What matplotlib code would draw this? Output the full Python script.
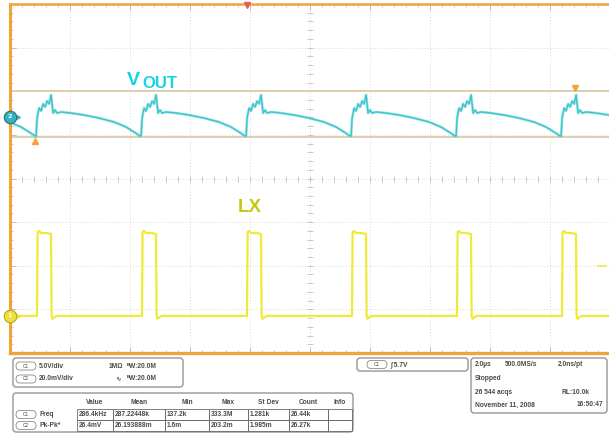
import matplotlib

matplotlib.use("Agg")

import matplotlib.pyplot as plt
import numpy as np
from matplotlib.patches import FancyBboxPatch, Rectangle

# scope settings
US_PER_DIV = 2.0
CH1_V_PER_DIV = 5.0
CH2_MV_PER_DIV = 20.0
CH1_OFFSET_DIV = -3.15
CH2_OFFSET_DIV = 1.41

# switching edges (us from left of screen)
lx_edges_us = [0.9, 4.4, 7.9, 11.4, 14.9, 18.4]
vout_edges_us = [-2.63, 0.87, 4.37, 7.87, 11.37, 14.87, 18.37]

# one LX cycle: time after the edge (us) and volts
lx_cycle_t = [0.0, 0.02, 0.067, 0.133, 0.3, 0.467, 0.487, 0.517, 0.6, 0.667]
lx_cycle_v = [0.0, 9.6, 9.75, 9.5, 9.5, 9.4, 0.0, -0.34, -0.1, 0.0]

# one VOUT ripple cycle (AC coupled): time after the edge (us) and mV
vout_cycle_t = [0.0, 0.033, 0.1, 0.167, 0.233, 0.3, 0.367, 0.433, 0.5, 0.567,
                0.633, 0.7, 0.833, 1.167, 1.6, 2.1, 2.6, 3.0, 3.267, 3.467]
vout_cycle_mv = [-8.7, -0.5, 4.1, 2.8, 6.0, 4.6, 7.3, 6.0, 10.1, 1.8,
                 3.2, 1.8, 2.3, 1.8, 0.9, -0.5, -2.3, -4.6, -6.9, -8.7]

cursor_mv = [11.9, -9.2]
trigger_time_us = 7.9
trigger_level_v = 5.7

meas_header = ["Value", "Mean", "Min", "Max", "St Dev", "Count", "Info"]
meas_freq = ["286.4kHz", "287.22448k", "137.2k", "333.3M", "1.281k", "26.44k", ""]
meas_pkpk = ["26.4mV", "26.193888m", "1.6m", "203.2m", "1.985m", "26.27k", ""]

VOUT_COLOR = "#3cc6cc"
LX_COLOR = "#eeea3a"
FRAME_COLOR = "#f0a43c"
CURSOR_COLOR = "#dccfae"
TEXT_COLOR = "#4a4a4a"
FONT = ["Liberation Sans", "DejaVu Sans"]


def build_trace(edges, cyc_t, cyc_v, start_v=None):
    t, v = [], []
    if start_v is not None:
        t.append(0.0)
        v.append(start_v)
    for e in edges:
        t.extend(e + np.asarray(cyc_t))
        v.extend(cyc_v)
    t.append(20.5)
    v.append(cyc_v[-1])
    return np.array(t), np.array(v)


W, H = 609, 442
fig = plt.figure(figsize=(W / 100, H / 100), dpi=100)
fig.patch.set_facecolor("white")

# scope graticule: 10 x 8 divisions
ax = fig.add_axes([10 / W, 1 - 353 / H, 600 / W, 349 / H])
ax.set_xlim(0, 10 * US_PER_DIV)
ax.set_ylim(-4, 4)
ax.set_xticks(np.arange(0, 20.1, 2.0))
ax.set_yticks(np.arange(-4, 4.1, 1.0))
ax.set_xticks(np.arange(0, 20.1, 0.4), minor=True)
ax.set_yticks(np.arange(-4, 4.1, 0.2), minor=True)
ax.tick_params(which="both", direction="in", top=True, bottom=True, left=True, right=False,
               labelbottom=False, labelleft=False, color="#b4b4b4")
ax.tick_params(which="major", length=4, width=0.6)
ax.tick_params(which="minor", length=2.5, width=0.5)
ax.grid(which="major", ls=(0, (1, 2)), color="#d8d8d8", lw=0.7)
for side in ("left", "top", "bottom"):
    ax.spines[side].set_color(FRAME_COLOR)
ax.spines["left"].set_linewidth(2.2)
ax.spines["top"].set_linewidth(1.8)
ax.spines["bottom"].set_linewidth(2.4)
ax.spines["right"].set_visible(False)

# centre cross with fine ticks
ax.plot(np.arange(0, 20.1, 0.4), np.zeros(51), ls="none", marker="|", ms=4, mew=0.5, color="#b4b4b4")
ax.plot(np.full(41, 10.0), np.arange(-4, 4.1, 0.2), ls="none", marker="_", ms=4, mew=0.5, color="#b4b4b4")

# cursors
for c in cursor_mv:
    ax.axhline(CH2_OFFSET_DIV + c / CH2_MV_PER_DIV, color=CURSOR_COLOR, lw=1.4, zorder=2)

# traces
vt, vv = build_trace(vout_edges_us, vout_cycle_t, vout_cycle_mv)
ax.plot(vt, CH2_OFFSET_DIV + vv / CH2_MV_PER_DIV, color=VOUT_COLOR, lw=2.0, alpha=0.45, zorder=3)
ax.plot(vt, CH2_OFFSET_DIV + vv / CH2_MV_PER_DIV, color=VOUT_COLOR, lw=1.0, zorder=4)
lt, lv = build_trace(lx_edges_us, lx_cycle_t, lx_cycle_v, start_v=0.0)
ax.plot(lt, CH1_OFFSET_DIV + lv / CH1_V_PER_DIV, color=LX_COLOR, lw=1.6, zorder=4)

# cursor readout markers
ax.plot(0.83, CH2_OFFSET_DIV + cursor_mv[1] / CH2_MV_PER_DIV - 0.1, marker="^", ms=4, color=FRAME_COLOR, clip_on=False, zorder=5)
ax.plot(18.83, CH2_OFFSET_DIV + cursor_mv[0] / CH2_MV_PER_DIV + 0.06, marker="v", ms=4.5, color=FRAME_COLOR, clip_on=False, zorder=5)

# trigger position and level
ax.plot(trigger_time_us, 3.97, marker="v", ms=5, color="#e0605a", clip_on=False, zorder=6)
ax.plot([19.6, 19.85], [CH1_OFFSET_DIV + trigger_level_v / CH1_V_PER_DIV] * 2, color=LX_COLOR, lw=1.2, clip_on=False)

# channel ground markers
for off, col, lab in ((CH2_OFFSET_DIV, "#2fb4c0", "2"), (CH1_OFFSET_DIV, "#eee23a", "1")):
    ax.plot(0.22, off, marker=">", ms=4, color=col, clip_on=False, zorder=6)
    ax.plot(0, off, marker="o", ms=9, mfc=col, mec="#3c6a70" if lab == "2" else "#b8a820", mew=0.8, clip_on=False, zorder=7)
    ax.text(0, off, lab, ha="center", va="center", fontsize=4.5, color="white", fontweight="bold", zorder=8, clip_on=False)

# overlay in pixel coordinates for labels and readout panel
ov = fig.add_axes([0, 0, 1, 1], zorder=5)
ov.set_xlim(0, W)
ov.set_ylim(H, 0)
ov.axis("off")
ov.patch.set_alpha(0)

ov.add_patch(Rectangle((123, 66), 63, 23, facecolor="white", edgecolor="none"))
ov.text(127, 85, "V", fontsize=14, fontweight="bold", color="#14d4e4", family=FONT, va="baseline")
ov.text(142, 88, "OUT", fontsize=12, fontweight="bold", color="#14d4e4", family=FONT, va="baseline")
ov.add_patch(Rectangle((230, 192), 40, 24, facecolor="white", edgecolor="none"))
ov.text(238, 212, "LX", fontsize=13.5, fontweight="bold", color="#c6c614", family=FONT, va="baseline")


def box(x0, y0, x1, y1):
    ov.add_patch(FancyBboxPatch((x0, y0), x1 - x0, y1 - y0, boxstyle="round,pad=0,rounding_size=3",
                                facecolor="white", edgecolor="#8a8a8a", lw=0.9))


def pill(x, y, lab):
    ov.add_patch(FancyBboxPatch((x, y - 4), 20, 8, boxstyle="round,pad=0,rounding_size=4",
                                facecolor="white", edgecolor="#8a8a8a", lw=0.6))
    ov.text(x + 10, y, lab, fontsize=3.4, ha="center", va="center", color=TEXT_COLOR, family=FONT)


def txt(x, y, s, ha="left"):
    ov.text(x, y, s, fontsize=4.8, fontweight="bold", ha=ha, va="center", color=TEXT_COLOR, family=FONT)


# channel settings
box(13, 358, 183, 387)
pill(16, 366, "C1")
txt(39, 366, "5.0V/div")
txt(109, 366, "1MΩ")
txt(127, 366, "ᴮW:20.0M")
pill(16, 379, "C2")
txt(39, 379, "20.0mV/div")
txt(115, 379, "∿")
txt(127, 379, "ᴮW:20.0M")

# trigger
box(357, 358, 468, 371)
pill(367, 364.5, "C1")
txt(390, 364.5, "∫ 5.7V")

# acquisition
box(471, 358, 607, 413)
txt(475, 365, "2.0µs")
txt(505, 365, "500.0MS/s")
txt(558, 365, "2.0ns/pt")
txt(475, 379, "Stopped")
txt(475, 392, "26 544 acqs")
txt(561, 392, "RL:10.0k")
txt(475, 405, "November 11, 2008")
txt(603, 405, "16:50:47", ha="right")

# measurements table
box(13, 393, 353, 432)
col_edges = [77, 113, 165, 209, 248, 289, 328, 352]
row_edges = [409, 420, 431]
for i, h in enumerate(meas_header):
    txt((col_edges[i] + col_edges[i + 1]) / 2, 403, h, ha="center")
for r, (lab, name, vals) in enumerate((("C1", "Freq", meas_freq), ("C2", "Pk-Pk*", meas_pkpk))):
    yc = (row_edges[r] + row_edges[r + 1]) / 2
    pill(16, yc, lab)
    txt(40, yc, name)
    for i, v in enumerate(vals):
        ov.add_patch(Rectangle((col_edges[i], row_edges[r]), col_edges[i + 1] - col_edges[i],
                               row_edges[r + 1] - row_edges[r], facecolor="none", edgecolor="#6a6a6a", lw=0.6))
        txt(col_edges[i] + 2, yc, v)

fig.savefig("out.png", dpi=100)
